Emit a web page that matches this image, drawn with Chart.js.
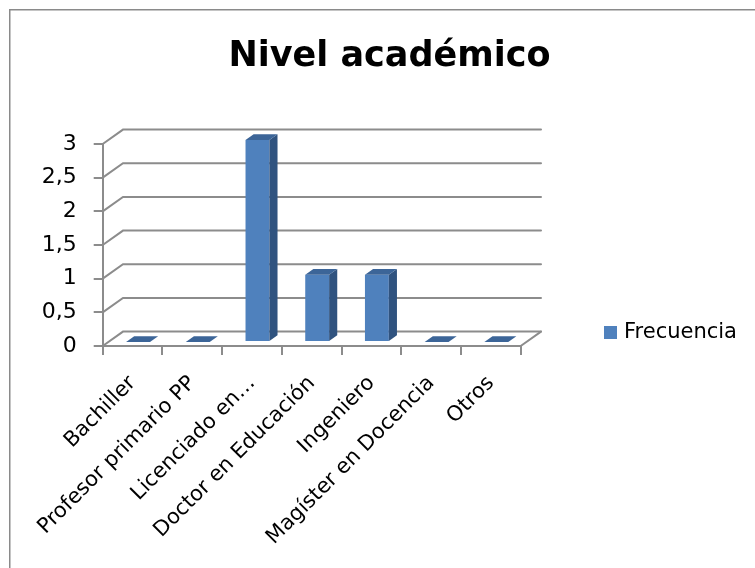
<!DOCTYPE html>
<html>
<head>
<meta charset="utf-8">
<title>Nivel académico</title>
<script src="https://cdn.jsdelivr.net/npm/chart.js@4/dist/chart.umd.min.js"></script>
<style>
  html, body { margin: 0; padding: 0; background: #ffffff; }
  #wrap { width: 755px; height: 568px; }
</style>
</head>
<body>
<div id="wrap"><canvas id="chart" width="755" height="568"></canvas></div>
<script>
// Nivel académico: frecuencia por categoría
const categories = [
  'Bachiller',
  'Profesor primario PP',
  'Licenciado en…',
  'Doctor en Educación',
  'Ingeniero',
  'Magíster en Docencia',
  'Otros'
];
const frecuencia = [0, 0, 3, 1, 1, 0, 0];
const yTickLabels = ['0', '0,5', '1', '1,5', '2', '2,5', '3'];
const seriesName = 'Frecuencia';
const chartTitle = 'Nivel académico';

const FONT = 'DejaVu Sans';
const GRID = '#8c8c8c';
const BAR_FRONT = '#4F81BD';
const BAR_SIDE = '#30537F';
const BAR_TOP = '#3C6598';

// depth of the 3-D box (back wall offset) and where the bars sit inside it
const DEPTH = { x: 20.3, y: -14.4 };
const BAR_FRONT_AT = 0.27;
const BAR_DEPTH = 0.4;

const threeD = {
  id: 'threeD',
  beforeDraw(chart) {
    const ctx = chart.ctx;
    ctx.save();
    ctx.strokeStyle = '#8a8a8a';
    ctx.lineWidth = 1.5;
    ctx.beginPath();
    ctx.moveTo(9.75, chart.height);
    ctx.lineTo(9.75, 9.75);
    ctx.lineTo(chart.width, 9.75);
    ctx.stroke();
    ctx.restore();
  },
  beforeDatasetsDraw(chart) {
    const { ctx, chartArea: a, scales: { x, y } } = chart;
    ctx.save();
    ctx.strokeStyle = GRID;
    ctx.lineWidth = 2;
    ctx.lineCap = 'round';
    // back wall gridlines with their diagonal connectors
    y.ticks.forEach(t => {
      const py = y.getPixelForValue(t.value);
      ctx.beginPath();
      ctx.moveTo(a.left, py);
      ctx.lineTo(a.left + DEPTH.x, py + DEPTH.y);
      ctx.lineTo(a.right + DEPTH.x, py + DEPTH.y);
      ctx.stroke();
    });
    // right edge of the floor
    ctx.beginPath();
    ctx.moveTo(a.right, a.bottom);
    ctx.lineTo(a.right + DEPTH.x, a.bottom + DEPTH.y);
    ctx.stroke();
    ctx.restore();

    ctx.save();
    ctx.translate(DEPTH.x * BAR_FRONT_AT, DEPTH.y * BAR_FRONT_AT);
  },
  afterDatasetsDraw(chart) {
    const ctx = chart.ctx;
    const bx = DEPTH.x * BAR_DEPTH, by = DEPTH.y * BAR_DEPTH;
    chart.getDatasetMeta(0).data.forEach(el => {
      const x1 = el.x - el.width / 2, x2 = el.x + el.width / 2;
      const yt = Math.min(el.y, el.base), yb = Math.max(el.y, el.base);
      // side face
      ctx.fillStyle = BAR_SIDE;
      ctx.beginPath();
      ctx.moveTo(x2, yt);
      ctx.lineTo(x2 + bx, yt + by);
      ctx.lineTo(x2 + bx, yb + by);
      ctx.lineTo(x2, yb);
      ctx.closePath();
      ctx.fill();
      // top face
      ctx.fillStyle = BAR_TOP;
      ctx.beginPath();
      ctx.moveTo(x1, yt);
      ctx.lineTo(x2, yt);
      ctx.lineTo(x2 + bx, yt + by);
      ctx.lineTo(x1 + bx, yt + by);
      ctx.closePath();
      ctx.fill();
    });
    ctx.restore();
  },
  afterDraw(chart) {
    // legend on the right
    const ctx = chart.ctx;
    const ds = chart.data.datasets[0];
    ctx.save();
    ctx.fillStyle = ds.backgroundColor;
    ctx.fillRect(604, 326, 13, 13);
    ctx.fillStyle = '#000000';
    ctx.font = '21px "' + FONT + '"';
    ctx.textBaseline = 'middle';
    ctx.textAlign = 'left';
    ctx.fillText(ds.label, 624, 333);
    ctx.restore();
  }
};

new Chart(document.getElementById('chart'), {
  type: 'bar',
  data: {
    labels: categories,
    datasets: [{
      label: seriesName,
      data: frecuencia,
      backgroundColor: BAR_FRONT,
      borderWidth: 0,
      barPercentage: 0.4,
      categoryPercentage: 1.0,
      clip: false
    }]
  },
  options: {
    responsive: false,
    animation: false,
    devicePixelRatio: 1,
    layout: { padding: { left: 24, right: 0, top: 0, bottom: 0 } },
    plugins: {
      legend: { display: false },
      tooltip: { enabled: false },
      title: {
        display: true,
        text: chartTitle,
        color: '#000000',
        font: { family: FONT, size: 35, weight: 'bold', lineHeight: 1.2 },
        padding: { top: 36, bottom: 66 }
      }
    },
    scales: {
      x: {
        position: 'bottom',
        offset: true,
        grid: { offset: true, drawOnChartArea: false, drawTicks: true, tickLength: 9, color: GRID, lineWidth: 2 },
        border: { display: true, color: GRID, width: 2 },
        ticks: {
          color: '#000000',
          font: { family: FONT, size: 21 },
          minRotation: 45,
          maxRotation: 45,
          autoSkip: false,
          padding: 16
        },
        afterFit(s) { s.height = 568 - 346; }
      },
      y: {
        position: 'left',
        min: 0,
        max: 3,
        ticks: {
          stepSize: 0.5,
          color: '#000000',
          font: { family: FONT, size: 22 },
          padding: 17,
          callback: (v, i) => yTickLabels[i]
        },
        grid: { drawOnChartArea: false, drawTicks: true, tickLength: 9, color: GRID, lineWidth: 2 },
        border: { display: true, color: GRID, width: 2 },
        afterFit(s) { s.width = 102.7 - 24; }
      },
      side: {
        type: 'linear',
        position: 'right',
        display: true,
        grid: { display: false },
        border: { display: false },
        ticks: { display: false },
        afterFit(s) { s.width = 755 - 520.7; }
      }
    }
  },
  plugins: [threeD]
});
</script>
</body>
</html>
